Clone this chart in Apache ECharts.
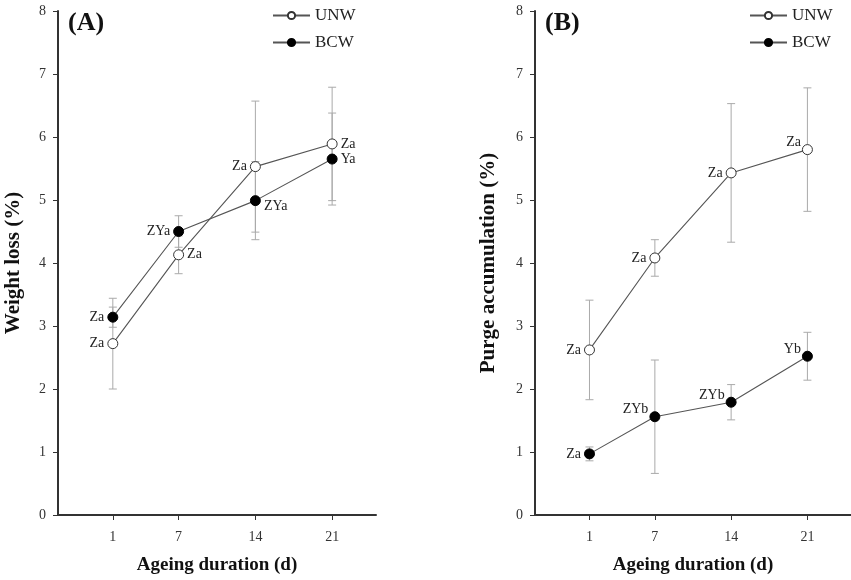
<!DOCTYPE html>
<html>
<head>
<meta charset="utf-8">
<script src="https://cdn.jsdelivr.net/npm/echarts@6/dist/echarts.min.js"></script>
<style>
  html, body { margin: 0; padding: 0; background: #fff; }
  #main { width: 851px; height: 580px; }
</style>
</head>
<body>
<div id="main"></div>
<script>
var days = [1, 7, 14, 21];
var yTicks = [0, 1, 2, 3, 4, 5, 6, 7, 8];

// panel A: weight loss (%)
var lossUNW = [2.72, 4.13, 5.53, 5.89];
var lossUNWsd = [0.72, 0.30, 1.04, 0.90];
var lossBCW = [3.14, 4.50, 4.99, 5.65];
var lossBCWsd = [0.16, 0.25, 0.62, 0.73];
var lossUNWtxt = ['Za', 'Za', 'Za', 'Za'];
var lossBCWtxt = ['Za', 'ZYa', 'ZYa', 'Ya'];

// panel B: purge accumulation (%)
var purgeUNW = [2.62, 4.08, 5.43, 5.80];
var purgeUNWsd = [0.79, 0.29, 1.10, 0.98];
var purgeBCW = [0.97, 1.56, 1.79, 2.52];
var purgeBCWsd = [0.11, 0.90, 0.28, 0.38];
var purgeUNWtxt = ['Za', 'Za', 'Za', 'Za'];
var purgeBCWtxt = ['Za', 'ZYb', 'ZYb', 'Yb'];

var font = 'Liberation Serif';
var lineColor = '#555';
var errColor = '#aaa';

// where each letter label sits next to its point
var place = {
    l:  { position: 'left', distance: 3, offset: [0, 0] },
    r:  { position: 'right', distance: 3, offset: [0, 0] },
    rb: { position: 'right', distance: 3, offset: [0, 6] },
    tl: { position: 'left', distance: 1, offset: [0, -7] }
};

function points(vals, txt, pos) {
    return vals.map(function (v, i) {
        var p = place[pos[i]];
        return {
            value: [days[i], v],
            label: {
                show: true, formatter: txt[i],
                position: p.position, distance: p.distance, offset: p.offset
            }
        };
    });
}

function bars(vals, sd) {
    return vals.map(function (v, i) {
        return [days[i], v - sd[i], v + sd[i]];
    });
}

function renderErr(params, api) {
    var lo = api.coord([api.value(0), api.value(1)]);
    var hi = api.coord([api.value(0), api.value(2)]);
    var w = 4;
    var st = { stroke: errColor, lineWidth: 1 };
    return {
        type: 'group',
        children: [
            { type: 'line', shape: { x1: lo[0], y1: lo[1], x2: hi[0], y2: hi[1] }, style: st },
            { type: 'line', shape: { x1: lo[0] - w, y1: lo[1], x2: lo[0] + w, y2: lo[1] }, style: st },
            { type: 'line', shape: { x1: hi[0] - w, y1: hi[1], x2: hi[0] + w, y2: hi[1] }, style: st }
        ]
    };
}

function lineSeries(name, idx, data, open) {
    return {
        name: name, type: 'line', xAxisIndex: idx, yAxisIndex: idx,
        data: data, symbol: 'circle', symbolSize: 10, z: 3,
        lineStyle: { color: lineColor, width: 1.1 },
        itemStyle: open ? { color: '#fff', borderColor: '#333', borderWidth: 1 }
                        : { color: '#000', borderColor: '#000', borderWidth: 1 },
        label: { color: '#222', fontFamily: font, fontSize: 14 },
        emphasis: { disabled: true }
    };
}

function errSeries(idx, data) {
    return {
        type: 'custom', xAxisIndex: idx, yAxisIndex: idx, z: 1,
        renderItem: renderErr, encode: { x: 0, y: [1, 2] }, data: data, silent: true
    };
}

function xAxis(idx, name) {
    return {
        type: 'value', gridIndex: idx, min: -4, max: 25,
        name: name, nameLocation: 'middle', nameGap: 41,
        nameTextStyle: { fontFamily: font, fontWeight: 'bold', fontSize: 19, color: '#111' },
        axisLine: { onZero: false, lineStyle: { color: '#333', width: 2 } },
        axisTick: { show: true, customValues: days, length: 5, lineStyle: { color: '#333' } },
        axisLabel: { customValues: days, fontFamily: font, fontSize: 14, color: '#333', margin: 15 },
        splitLine: { show: false }
    };
}

function yAxis(idx, name, gap) {
    return {
        type: 'value', gridIndex: idx, min: 0, max: 8, interval: 1,
        name: name, nameLocation: 'middle', nameGap: gap,
        nameTextStyle: { fontFamily: font, fontWeight: 'bold', fontSize: 21, color: '#111' },
        axisLine: { show: true, onZero: false, lineStyle: { color: '#333', width: 2 } },
        axisTick: { show: true, length: 5, lineStyle: { color: '#333' } },
        axisLabel: {
            fontFamily: font, fontSize: 14, color: '#333', margin: 12,
            formatter: function (v) { return yTicks.indexOf(v) >= 0 ? String(v) : ''; }
        },
        splitLine: { show: false }
    };
}

function legend(left) {
    return {
        data: ['UNW', 'BCW'], orient: 'vertical', left: left, top: 2,
        itemWidth: 37, itemHeight: 9, itemGap: 10, selectedMode: false,
        textStyle: { fontFamily: font, fontSize: 17, color: '#222' }
    };
}

var myChart = echarts.init(document.getElementById('main'));
var option = {
    animation: false,
    title: [
        { text: '(A)', left: 63, top: 5, textStyle: { fontFamily: font, fontWeight: 'bold', fontSize: 26, color: '#111' } },
        { text: '(B)', left: 540, top: 5, textStyle: { fontFamily: font, fontWeight: 'bold', fontSize: 26, color: '#111' } }
    ],
    legend: [legend(267), legend(744)],
    grid: [
        { left: 58, top: 11, width: 318, bottom: 64 },
        { left: 535, top: 11, width: 318, bottom: 64 }
    ],
    xAxis: [xAxis(0, 'Ageing duration (d)'), xAxis(1, 'Ageing duration (d)')],
    yAxis: [yAxis(0, 'Weight loss (%)', 34), yAxis(1, 'Purge accumulation (%)', 36)],
    series: [
        errSeries(0, bars(lossUNW, lossUNWsd)),
        errSeries(0, bars(lossBCW, lossBCWsd)),
        lineSeries('UNW', 0, points(lossUNW, lossUNWtxt, ['l', 'r', 'l', 'r']), true),
        lineSeries('BCW', 0, points(lossBCW, lossBCWtxt, ['l', 'l', 'rb', 'r']), false),
        errSeries(1, bars(purgeUNW, purgeUNWsd)),
        errSeries(1, bars(purgeBCW, purgeBCWsd)),
        lineSeries('UNW', 1, points(purgeUNW, purgeUNWtxt, ['l', 'l', 'l', 'tl']), true),
        lineSeries('BCW', 1, points(purgeBCW, purgeBCWtxt, ['l', 'tl', 'tl', 'tl']), false)
    ]
};
myChart.setOption(option, true);
</script>
</body>
</html>
